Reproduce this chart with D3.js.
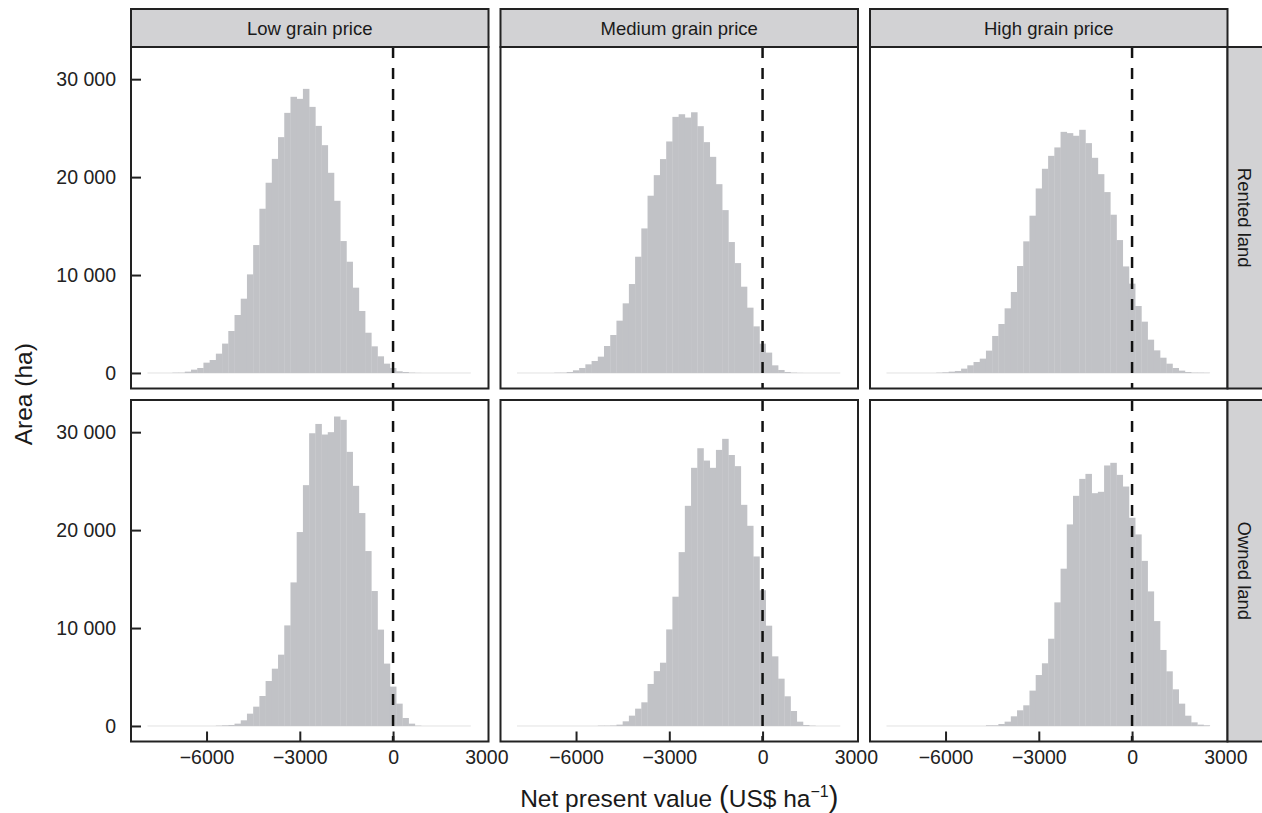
<!DOCTYPE html>
<html>
<head>
<meta charset="utf-8">
<script src="https://cdn.jsdelivr.net/npm/d3@7"></script>
<style>
  html, body { margin: 0; padding: 0; background: #fff; }
  svg { display: block; font-family: "Liberation Sans", Arial, Helvetica, sans-serif; }
</style>
</head>
<body>
<svg id="chart" width="1262" height="813"></svg>
<script>
// ---------------- data ----------------
const colLabels = ["Low grain price", "Medium grain price", "High grain price"];
const rowLabels = ["Rented land", "Owned land"];
const binWidth = 200;
const yTicks = [0, 10000, 20000, 30000];
const xTicks = [-6000, -3000, 0, 3000];
const dataRange = [-7900, 2500];
const refLine = 0;

// bin centres start at *Start and step by binWidth
const lowRentedStart = -7000;
const lowRented = [30, 34, 136, 340, 510, 1054, 1326, 1973, 3000, 4286, 5918, 7585, 10068, 13062, 16770, 19425, 21860, 24080, 26560, 28200, 27990, 29010, 27170, 25230, 23260, 20440, 17580, 13470, 11360, 8710, 6330, 4110, 2720, 1700, 952, 510, 170, 100, 34, 10];
const medRentedStart = -6600;
const medRented = [30, 34, 102, 272, 510, 884, 1224, 1667, 2755, 3877, 5340, 7110, 9080, 11870, 14760, 18100, 20200, 21840, 23640, 26150, 26420, 26080, 26620, 25200, 23570, 22070, 19280, 16630, 13370, 11220, 8810, 6670, 4760, 2990, 2080, 780, 306, 102, 34, 10];
const highRentedStart = -6200;
const highRented = [34, 68, 136, 204, 442, 782, 1122, 1463, 2280, 3780, 5000, 6600, 8270, 10920, 13440, 16060, 18840, 20850, 22170, 23030, 24620, 24490, 24220, 24830, 23470, 21970, 20300, 18470, 16160, 13570, 10880, 9120, 6840, 5240, 3400, 2310, 1560, 950, 510, 240, 100, 34, 30, 20];
const lowOwnedStart = -5600;
const lowOwned = [34, 68, 102, 238, 578, 1258, 1973, 3060, 4590, 5850, 7280, 10270, 14660, 19800, 24590, 29890, 30840, 29760, 30000, 31600, 31260, 27990, 24520, 21740, 17860, 13780, 9840, 6370, 4020, 2280, 816, 238, 34];
const medOwnedStart = -5200;
const medOwned = [34, 34, 50, 136, 476, 1054, 1769, 2415, 4290, 5600, 6460, 9860, 13200, 17750, 22480, 26360, 28360, 27100, 26360, 28190, 29320, 27670, 26530, 22580, 20440, 17310, 13860, 10240, 7110, 4830, 3030, 1530, 440, 102, 34];
const highOwnedStart = -4600;
const highOwned = [68, 68, 204, 442, 986, 1600, 2110, 3610, 5200, 6400, 8910, 12620, 16060, 20580, 23500, 25230, 25740, 23770, 23910, 26600, 26870, 25640, 24450, 21260, 19560, 16860, 13740, 10710, 7760, 5580, 3740, 2280, 1050, 370, 136, 68];

const panelData = [
  [[lowRentedStart, lowRented], [medRentedStart, medRented], [highRentedStart, highRented]],
  [[lowOwnedStart, lowOwned], [medOwnedStart, medOwned], [highOwnedStart, highOwned]]
];

// ---------------- layout ----------------
const svg = d3.select("#chart");
const panelW = 357.5, panelH = 341.5;
const colX = [131, 500.5, 870];
const rowY = [47, 400];
const stripTop = 9;
const dark = "#222222";
const barFill = "#c1c2c6";
const stripFill = "#d2d2d4";
const xDomain = [-8430, 3070];
const yDomain = [-1585, 33285];
const tickFont = 19.5;
const stripFont = 18.5;
const titleFont = 24.5;

const loc = d3.formatLocale({decimal: ".", thousands: " ", grouping: [3], currency: ["", ""], minus: "\u2212"});
const yFmt = loc.format(",d");
const xFmt = loc.format("d");

for (let r = 0; r < 2; r++) {
  for (let c = 0; c < 3; c++) {
    const x0 = colX[c], y0 = rowY[r];
    const x = d3.scaleLinear().domain(xDomain).range([x0, x0 + panelW]);
    const y = d3.scaleLinear().domain(yDomain).range([y0 + panelH, y0]);
    const [start, counts] = panelData[r][c];
    const bins = counts.map((v, i) => ({c: start + i * binWidth, v}));
    const g = svg.append("g");

    g.append("clipPath").attr("id", `clip${r}${c}`)
      .append("rect").attr("x", x0).attr("y", y0).attr("width", panelW).attr("height", panelH);
    const inner = g.append("g").attr("clip-path", `url(#clip${r}${c})`);

    // faint baseline of the histogram range
    inner.append("line")
      .attr("x1", x(dataRange[0])).attr("x2", x(dataRange[1]))
      .attr("y1", y(0)).attr("y2", y(0))
      .attr("stroke", "#e2e2e2").attr("stroke-width", 1);

    inner.selectAll("rect.bar").data(bins).join("rect")
      .attr("class", "bar")
      .attr("x", d => x(d.c - binWidth / 2))
      .attr("width", d => x(d.c + binWidth / 2) - x(d.c - binWidth / 2) + 0.3)
      .attr("y", d => y(d.v))
      .attr("height", d => y(0) - y(d.v))
      .attr("fill", barFill);

    // reference line at 0
    inner.append("line")
      .attr("x1", x(refLine)).attr("x2", x(refLine))
      .attr("y1", y0).attr("y2", y0 + panelH)
      .attr("stroke", "#111").attr("stroke-width", 2.5)
      .attr("stroke-dasharray", "11,10");

    // axes (ticks pointing inward)
    if (c === 0) {
      const ay = g.append("g").attr("transform", `translate(${x0},0)`)
        .call(d3.axisLeft(y).tickValues(yTicks).tickFormat(yFmt).tickSize(-10).tickPadding(15));
      ay.attr("font-size", tickFont).attr("font-family", "Liberation Sans, Arial, sans-serif");
      ay.select(".domain").remove();
      ay.selectAll(".tick line").attr("stroke", dark).attr("stroke-width", 2);
      ay.selectAll(".tick text").attr("fill", "#222").style("font-size", tickFont + "px");
    }
    if (r === 1) {
      const ax = g.append("g").attr("transform", `translate(0,${y0 + panelH})`)
        .call(d3.axisBottom(x).tickValues(xTicks).tickFormat(xFmt).tickSize(-10).tickPadding(9));
      ax.attr("font-size", tickFont).attr("font-family", "Liberation Sans, Arial, sans-serif");
      ax.select(".domain").remove();
      ax.selectAll(".tick line").attr("stroke", dark).attr("stroke-width", 2)
        .filter(d => d === 3000).remove();
      ax.selectAll(".tick text").attr("fill", "#222").style("font-size", tickFont + "px");
    }

    // panel border
    g.append("rect").attr("x", x0).attr("y", y0).attr("width", panelW).attr("height", panelH)
      .attr("fill", "none").attr("stroke", dark).attr("stroke-width", 2);

    // top strips
    if (r === 0) {
      g.append("rect").attr("x", x0).attr("y", stripTop).attr("width", panelW).attr("height", y0 - stripTop)
        .attr("fill", stripFill).attr("stroke", dark).attr("stroke-width", 2);
      g.append("text").attr("x", x0 + panelW / 2).attr("y", (stripTop + y0) / 2)
        .attr("text-anchor", "middle").attr("dominant-baseline", "central")
        .style("font-size", stripFont + "px").attr("fill", "#1a1a1a").text(colLabels[c]);
    }
    // right strips
    if (c === 2) {
      const sx = x0 + panelW;
      g.append("rect").attr("x", sx).attr("y", y0).attr("width", 50).attr("height", panelH)
        .attr("fill", stripFill).attr("stroke", dark).attr("stroke-width", 2);
      g.append("text")
        .attr("transform", `translate(${sx + 17},${y0 + panelH / 2}) rotate(90)`)
        .attr("text-anchor", "middle").attr("dominant-baseline", "central")
        .style("font-size", stripFont + "px").attr("fill", "#1a1a1a").text(rowLabels[r]);
    }
  }
}

// axis titles
svg.append("text")
  .attr("transform", `translate(23,${(rowY[0] + rowY[1] + panelH) / 2}) rotate(-90)`)
  .attr("text-anchor", "middle").attr("dominant-baseline", "central")
  .style("font-size", titleFont + "px").attr("fill", "#1a1a1a").text("Area (ha)");

const xt = svg.append("text")
  .attr("x", (colX[0] + colX[2] + panelW) / 2).attr("y", 807)
  .attr("text-anchor", "middle").style("font-size", titleFont + "px").attr("fill", "#1a1a1a");
xt.append("tspan").text("Net present value ");
xt.append("tspan").style("font-size", "29px").text("(");
xt.append("tspan").text("US$ ha");
xt.append("tspan").style("font-size", "16px").attr("dy", -10).text("\u22121");
xt.append("tspan").style("font-size", "29px").attr("dy", 10).text(")");
</script>
</body>
</html>
